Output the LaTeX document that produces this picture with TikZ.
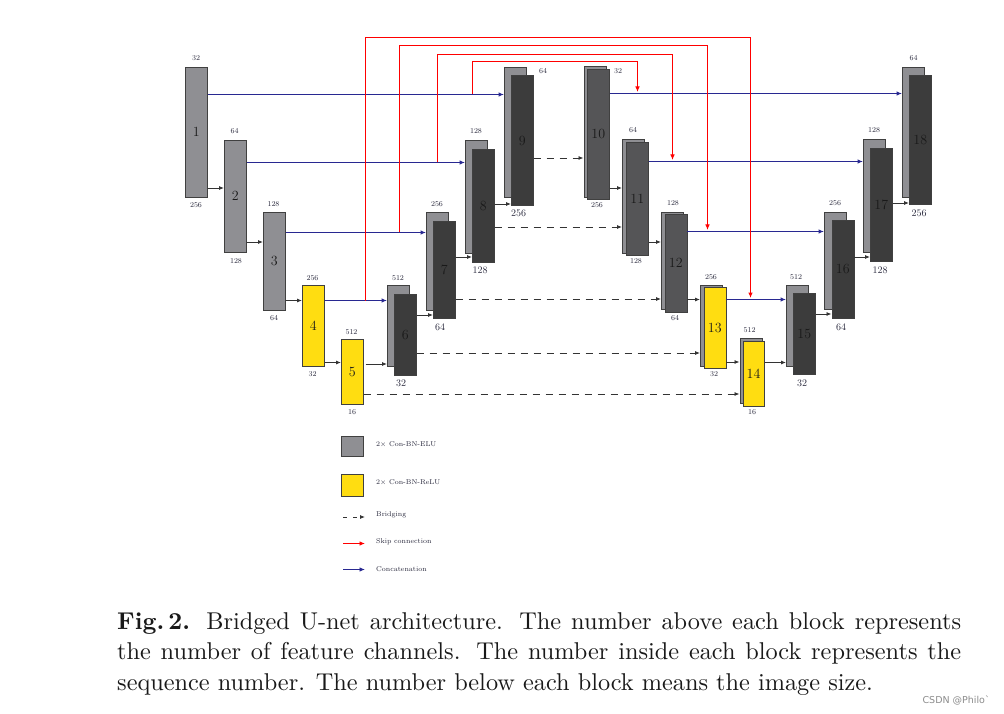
\documentclass[tikz,border=0pt]{standalone}
\usepackage{fontspec}
\newfontfamily\wmfont{DejaVu Sans}
\usetikzlibrary{arrows.meta}
\definecolor{lgray}{RGB}{143,143,147}
\definecolor{dgray}{RGB}{60,60,60}
\definecolor{mgray}{RGB}{85,85,87}
\definecolor{yel}{RGB}{255,221,17}
\definecolor{catblue}{RGB}{40,40,145}
\definecolor{skipred}{RGB}{255,0,0}
\definecolor{labc}{RGB}{40,40,60}
\tikzset{
  blk/.style 2 args={draw=black!75, line width=0.6pt, inner sep=0pt, anchor=north west,
     minimum width=#1pt, minimum height=#2pt},
  bk/.style={fill=lgray},
  fr/.style={fill=dgray, font=\fontsize{14}{14}\selectfont, text=black!90},
  frm/.style={fill=mgray, font=\fontsize{14}{14}\selectfont, text=black!90},
  yl/.style={fill=yel, font=\fontsize{14}{14}\selectfont, text=black!90},
  lgr/.style={fill=lgray, font=\fontsize{14}{14}\selectfont, text=black!90},
  tl/.style={font=\fontsize{7.5}{8}\selectfont, text=labc, inner sep=0pt},
  bl/.style={font=\fontsize{10}{10}\selectfont, text=labc, inner sep=0pt},
  lt/.style={font=\fontsize{7}{7}\selectfont, text=labc, inner sep=0pt, anchor=west},
  seq/.style={-{Latex[length=5pt,width=4pt]}, draw=black!80, line width=0.8pt},
  brg/.style={seq, dash pattern=on 7pt off 6pt},
  cat/.style={-{Latex[length=5.5pt,width=4.5pt]}, draw=catblue, line width=1.1pt},
  skp/.style={-{Latex[length=5.5pt,width=4.5pt]}, draw=skipred, line width=1pt},
  captext/.style={anchor=base west, inner sep=0pt, text=black!90},
}
\newcommand\capline[1]{\scalebox{2.43}{\fontsize{10}{12}\selectfont #1}}
\begin{document}
\begin{tikzpicture}[x=1pt,y=-1pt]
\useasboundingbox[fill=white] (0,0) rectangle (1004,714);

% ---------------- encoder ----------------
\node[blk={22}{130}, lgr] (b1) at (185,67) {1};
\node[blk={22}{112}, lgr] (b2) at (224,140) {2};
\node[blk={22}{97}, lgr] (b3) at (263,212.5) {3};
\node[blk={22}{81}, yl] (b4) at (302,285) {4};
\node[blk={22}{65}, yl] (b5) at (341,339) {5};

\node[blk={22}{81}, bk] (b6b) at (387,285) {};
\node[blk={22}{81}, fr] (b6) at (394,294) {6};
\node[blk={22}{97}, bk] (b7b) at (426,212.5) {};
\node[blk={22}{97}, fr] (b7) at (433,221) {7};
\node[blk={22}{113}, bk] (b8b) at (465,140) {};
\node[blk={22}{113}, fr] (b8) at (472,149) {8};
\node[blk={22}{130}, bk] (b9b) at (504,67) {};
\node[blk={22}{130}, fr] (b9) at (511,75.5) {9};

% ---------------- decoder ----------------
\node[blk={22}{131}, bk] (b10b) at (583.5,66) {};
\node[blk={22}{130}, frm] (b10) at (587,69) {10};
\node[blk={22}{114}, bk] (b11b) at (622,139) {};
\node[blk={22}{113}, frm] (b11) at (626,142) {11};
\node[blk={22}{97}, bk] (b12b) at (661,212) {};
\node[blk={22}{97}, frm] (b12) at (664.5,214.5) {12};
\node[blk={22}{81}, bk] (b13b) at (700,284.5) {};
\node[blk={22}{81}, yl] (b13) at (703.5,287) {13};
\node[blk={22}{65}, bk] (b14b) at (739.5,338) {};
\node[blk={21.5}{65}, yl] (b14) at (742.5,341) {14};

\node[blk={22}{81}, bk] (b15b) at (786,284.5) {};
\node[blk={22}{81}, fr] (b15) at (793,293) {15};
\node[blk={22}{97}, bk] (b16b) at (824,212) {};
\node[blk={22}{97}, fr] (b16) at (831.5,220.5) {16};
\node[blk={22}{113}, bk] (b17b) at (863,139) {};
\node[blk={22}{113}, fr] (b17) at (870,148) {17};
\node[blk={22}{130}, bk] (b18b) at (902,67) {};
\node[blk={22}{129}, fr] (b18) at (909,75) {18};

% ---------------- labels above ----------------
\node[tl] (t1) at (196,58.5) {32};
\node[tl] (t2) at (234.5,131.5) {64};
\node[tl] (t3) at (273.5,204) {128};
\node[tl] (t4) at (312.5,278.5) {256};
\node[tl] (t5) at (351.5,332.5) {512};
\node[tl] (t6) at (398,278.5) {512};
\node[tl] (t7) at (437,204) {256};
\node[tl] (t8) at (476,131.5) {128};
\node[tl] (t9) at (543,71.5) {64};
\node[tl] (t10) at (618,71.5) {32};
\node[tl] (t11) at (633,130.5) {64};
\node[tl] (t12) at (673,203) {128};
\node[tl] (t13) at (711,277.5) {256};
\node[tl] (t14) at (749.5,330) {512};
\node[tl] (t15) at (796,277.5) {512};
\node[tl] (t16) at (835,203) {256};
\node[tl] (t17) at (874,130.5) {128};
\node[tl] (t18) at (913.5,58.5) {64};

% ---------------- labels below ----------------
\node[tl] (u1) at (196,205) {256};
\node[tl] (u2) at (236,261.5) {128};
\node[tl] (u3) at (274,318) {64};
\node[tl] (u4) at (312.5,374.5) {32};
\node[tl] (u5) at (352,412) {16};
\node[bl] (u6) at (401,383) {32};
\node[bl] (u7) at (440,327) {64};
\node[bl] (u8) at (480,270) {128};
\node[bl] (u9) at (518.5,213) {256};
\node[tl] (u10) at (597,205.5) {256};
\node[tl] (u11) at (636,261.5) {128};
\node[tl] (u12) at (675,318) {64};
\node[tl] (u13) at (714,374.5) {32};
\node[tl] (u14) at (752,412.5) {16};
\node[bl] (u15) at (802,383) {32};
\node[bl] (u16) at (841,327) {64};
\node[bl] (u17) at (880,270) {128};
\node[bl] (u18) at (919,213) {256};

% ---------------- sequential arrows ----------------
\draw[seq] (b1.east |- 0,188) -- (b2.west |- 0,188);
\draw[seq] (b2.east |- 0,242) -- (b3.west |- 0,242);
\draw[seq] (b3.east |- 0,300.5) -- (b4.west |- 0,300.5);
\draw[seq] (b4.east |- 0,362.5) -- (b5.west |- 0,362.5);
\draw[seq, shorten <=2pt] (b5.east |- 0,364) -- (b6b.west |- 0,364);
\draw[seq] (b6.east |- 0,315) -- (b7.west |- 0,315);
\draw[seq] (b7.east |- 0,257) -- (b8.west |- 0,257);
\draw[seq] (b8.east |- 0,204) -- (b9.west |- 0,204);
\draw[seq] (b10.east |- 0,188) -- (b11b.west |- 0,188);
\draw[seq] (b11.east |- 0,242) -- (b12b.west |- 0,242);
\draw[seq] (b12.east |- 0,299.5) -- (b13b.west |- 0,299.5);
\draw[seq] (b13.east |- 0,362) -- (b14b.west |- 0,362);
\draw[seq] (b14.east |- 0,362.5) -- (b15b.west |- 0,362.5);
\draw[seq] (b15.east |- 0,314) -- (b16.west |- 0,314);
\draw[seq] (b16.east |- 0,257) -- (b17.west |- 0,257);
\draw[seq] (b17.east |- 0,203) -- (b18.west |- 0,203);

% ---------------- bridging ----------------
\draw[brg] (b9.east |- 0,158) -- (b10b.west |- 0,158);
\draw[brg] (b8.east |- 0,227) -- (b11b.west |- 0,227);
\draw[brg] (b7.east |- 0,299) -- (b12b.west |- 0,299);
\draw[brg] (b6.east |- 0,353) -- (b13b.west |- 0,353);
\draw[brg] (b5.east |- 0,394) -- (b14b.west |- 0,394);

% ---------------- concatenation ----------------
\draw[cat] (b1.east |- 0,94.5) -- (b9b.west |- 0,94.5);
\draw[cat] (b2.east |- 0,162.5) -- (b8b.west |- 0,162.5);
\draw[cat] (b3.east |- 0,232.5) -- (b7b.west |- 0,232.5);
\draw[cat] (b4.east |- 0,300.5) -- (b6b.west |- 0,300.5);
\draw[cat] (b10.east |- 0,93.5) -- (b18b.west |- 0,93.5);
\draw[cat] (b11.east |- 0,161.5) -- (b17b.west |- 0,161.5);
\draw[cat] (b12.east |- 0,231.5) -- (b16b.west |- 0,231.5);
\draw[cat] (b13.east |- 0,299.5) -- (b15b.west |- 0,299.5);

% ---------------- skip connections ----------------
\coordinate (sa1) at (365.5,300.5);   \coordinate (se1) at (750.5,298);
\coordinate (sa2) at (399.5,232.5);   \coordinate (se2) at (707.5,230);
\coordinate (sa3) at (437.5,162.5);   \coordinate (se3) at (672.5,160);
\coordinate (sa4) at (472.5,94.5);    \coordinate (se4) at (637.5,92);
\draw[skp] (sa1) |- (se1 |- 0,37.5) -- (se1);
\draw[skp] (sa2) |- (se2 |- 0,45.5) -- (se2);
\draw[skp] (sa3) |- (se3 |- 0,54.5) -- (se3);
\draw[skp] (sa4) |- (se4 |- 0,61.5) -- (se4);

% ---------------- legend ----------------
\node[blk={22}{20}, bk] (lg1) at (341,436) {};
\node[lt] (lt1) at (376,444) {2$\times$ Con-BN-ELU};
\node[blk={22}{22}, fill=yel] (lg2) at (341,474) {};
\node[lt] (lt2) at (376,482.5) {2$\times$ Con-BN-ReLU};
\coordinate (la3) at (343,517); \coordinate (lb3) at (365,517);
\draw[brg, dash pattern=on 4pt off 6pt] (la3) -- (lb3);
\node[lt] (lt3) at (376,515) {Bridging};
\coordinate (la4) at (343,543.5); \coordinate (lb4) at (365,543.5);
\draw[skp, line width=0.9pt] (la4) -- (lb4);
\node[lt] (lt4) at (376,541.5) {Skip connection};
\coordinate (la5) at (343,569.5); \coordinate (lb5) at (365,569.5);
\draw[cat, line width=0.9pt] (la5) -- (lb5);
\node[lt] (lt5) at (376,569) {Concatenation};

% ---------------- caption ----------------
\node[captext] (c1) at (117,629)
  {\capline{\makebox[347.3pt][s]{\textbf{Fig.\,2.} Bridged U-net architecture. The number above each block represents}}};
\node[captext] (c2) at (117,659.5)
  {\capline{\makebox[347.3pt][s]{the number of feature channels. The number inside each block represents the}}};
\node[captext] (c3) at (117,690)
  {\capline{sequence number. The number below each block means the image size.}};

\node[anchor=base east, inner sep=0pt, font=\wmfont\fontsize{9.5}{10}\selectfont, text=black!45] (wm) at (990,703.5)
  {CSDN @Philo\char"02CB};
\end{tikzpicture}
\end{document}
